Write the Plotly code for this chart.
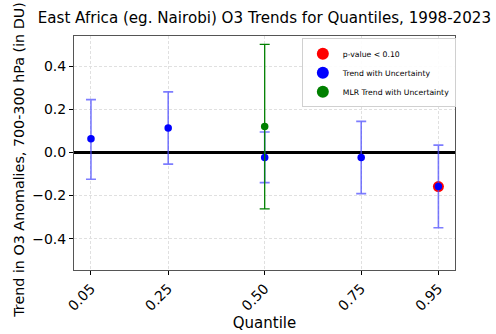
import plotly.graph_objects as go

quantiles = [0.05, 0.25, 0.50, 0.75, 0.95]
tick_labels = ["0.05", "0.25", "0.50", "0.75", "0.95"]
trend = [0.064, 0.113, -0.023, -0.023, -0.158]
trend_upper = [0.245, 0.281, 0.095, 0.144, 0.034]
trend_lower = [-0.124, -0.054, -0.140, -0.191, -0.349]

mlr_q = [0.50]
mlr_trend = [0.120]
mlr_upper = [0.501]
mlr_lower = [-0.262]

sig_q = [0.95]
sig_trend = [-0.158]

plus = [u - t for u, t in zip(trend_upper, trend)]
minus = [t - l for t, l in zip(trend, trend_lower)]
mplus = [u - t for u, t in zip(mlr_upper, mlr_trend)]
mminus = [t - l for t, l in zip(mlr_trend, mlr_lower)]

FONT = "DejaVu Sans"
fig = go.Figure()

fig.add_trace(go.Scatter(
    x=sig_q, y=sig_trend, mode="markers", name="p-value < 0.10",
    marker=dict(color="red", size=11),
))
fig.add_trace(go.Scatter(
    x=quantiles, y=trend, mode="markers", name="Trend with Uncertainty",
    marker=dict(color="blue", size=7.5),
    error_y=dict(type="data", symmetric=False, array=plus, arrayminus=minus,
                 color="rgba(70,70,255,0.7)", thickness=1.6, width=5),
))
fig.add_trace(go.Scatter(
    x=mlr_q, y=mlr_trend, mode="markers", name="MLR Trend with Uncertainty",
    marker=dict(color="green", size=7.5),
    error_y=dict(type="data", symmetric=False, array=mplus, arrayminus=mminus,
                 color="green", thickness=1.3, width=5),
))

fig.update_layout(
    width=496, height=334,
    margin=dict(l=74, r=41, t=36, b=64),
    paper_bgcolor="white", plot_bgcolor="white",
    font=dict(family=FONT, color="black"),
    title=dict(text="East Africa (eg. Nairobi) O3 Trends for Quantiles, 1998-2023",
               x=0.533, xanchor="center", y=0.948, yanchor="middle",
               font=dict(size=15.1, family=FONT, color="black")),
    showlegend=True,
    legend=dict(x=0.598, y=0.99, xanchor="left", yanchor="top",
                bgcolor="rgba(255,255,255,0.9)", bordercolor="#d0d0d0", borderwidth=1,
                font=dict(size=7.7, family=FONT, color="black"),
                itemsizing="constant", tracegroupgap=0),
    annotations=[dict(
        text="Trend in O3 Anomalies, 700-300 hPa (in DU)", textangle=-90,
        xref="paper", yref="paper", x=-0.145, y=0.47, xanchor="center", yanchor="middle",
        showarrow=False, font=dict(size=14.3, family=FONT, color="black"),
    )],
)
fig.update_xaxes(
    automargin=False,
    range=[0.006, 0.993], tickmode="array", tickvals=quantiles, ticktext=tick_labels,
    tickangle=-45, tickfont=dict(size=14, family=FONT),
    ticks="outside", ticklen=4, tickcolor="black",
    showline=True, linecolor="#555", linewidth=1, mirror=True,
    showgrid=True, gridcolor="#e0e0e0", griddash="3px,2px", gridwidth=1,
    zeroline=False,
    title=dict(text="Quantile", font=dict(size=15, family=FONT), standoff=2),
)
fig.update_yaxes(
    automargin=False,
    range=[-0.545, 0.54], tickmode="array", tickvals=[-0.4, -0.2, 0.0, 0.2, 0.4],
    ticktext=["\u22120.4", "\u22120.2", "0.0", "0.2", "0.4"],
    tickfont=dict(size=14, family=FONT),
    ticks="outside", ticklen=4, tickcolor="black",
    showline=True, linecolor="#555", linewidth=1, mirror=True,
    showgrid=True, gridcolor="#e0e0e0", griddash="3px,2px", gridwidth=1,
    zeroline=True, zerolinecolor="black", zerolinewidth=2.5,
)

fig.write_html("out.html")
